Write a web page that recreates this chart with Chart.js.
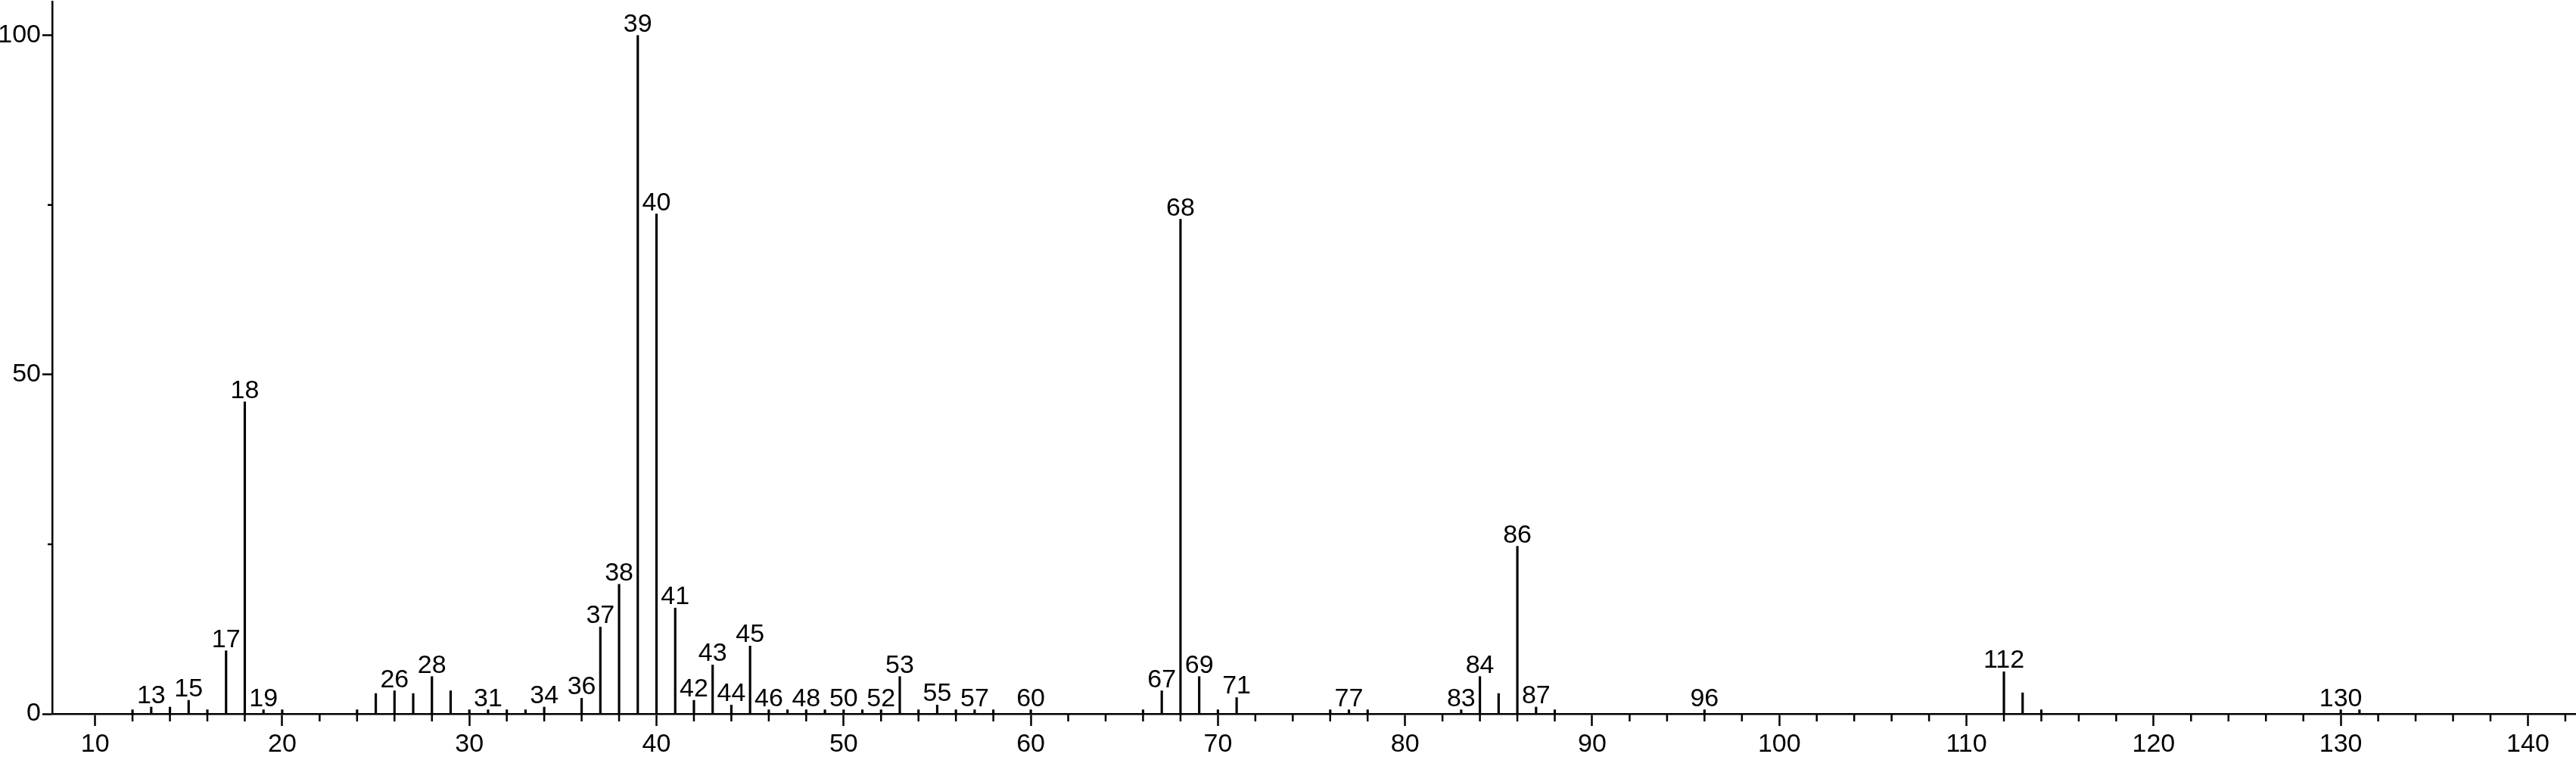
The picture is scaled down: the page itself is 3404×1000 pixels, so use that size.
<!DOCTYPE html>
<html>
<head>
<meta charset="utf-8">
<script src="https://cdn.jsdelivr.net/npm/chart.js@4.4.0/dist/chart.umd.min.js"></script>
<style>
  body { margin: 0; background: #fff; }
  #wrap { width: 3404px; height: 1000px; }
</style>
</head>
<body>
<div id="wrap"><canvas id="myChart"></canvas></div>
<script>
// m/z values and relative intensity (%)
let mz = [12, 13, 14, 15, 16, 17, 18, 19, 20, 24, 25, 26, 27, 28, 29, 30, 31, 32, 33, 34,
  36, 37, 38, 39, 40, 41, 42, 43, 44, 45, 46, 47, 48, 49, 50, 51, 52, 53, 54, 55,
  56, 57, 58, 60, 66, 67, 68, 69, 70, 71, 76, 77, 78, 83, 84, 85, 86, 87, 88, 96,
  112, 113, 114, 130, 131];
let intensity = [0.6, 1.0, 1.0, 2.0, 0.6, 9.3, 46.0, 0.6, 0.6, 0.6, 3.0, 3.4, 3.0, 5.5, 3.4, 0.6, 0.6, 0.6, 0.6, 1.0,
  2.3, 12.8, 19.1, 100, 73.7, 15.6, 2.0, 7.2, 1.3, 10.0, 0.6, 0.6, 0.6, 0.6, 0.6, 0.6, 0.6, 5.5, 0.6, 1.3,
  0.6, 0.6, 0.6, 0.6, 0.6, 3.4, 72.9, 5.5, 0.6, 2.4, 0.6, 0.6, 0.6, 0.6, 5.5, 3.0, 24.7, 1.0, 0.6, 0.6,
  6.2, 3.1, 0.6, 0.6, 0.6];
// peaks that carry a number above them
let labeled = [13, 15, 17, 18, 19, 26, 28, 31, 34, 36, 37, 38, 39, 40, 41, 42, 43, 44, 45, 46,
  48, 50, 52, 53, 55, 57, 60, 67, 68, 69, 71, 77, 83, 84, 86, 87, 96, 112, 130];
let xTicks = [10, 20, 30, 40, 50, 60, 70, 80, 90, 100, 110, 120, 130, 140];
let yTicks = [0, 50, 100];
let yMinor = [25, 75];

let peaks = mz.map(function(m, i) { return { x: m, y: intensity[i] }; });

Chart.defaults.font.family = "'Liberation Sans', Arial, sans-serif";
Chart.defaults.font.size = 34;
Chart.defaults.color = '#000';

// small ticks every 2 on x, and at 25/75 on y
let minorTicks = {
  id: 'minorTicks',
  afterDraw: function(chart) {
    let ctx = chart.ctx;
    let xs = chart.scales.x;
    let ys = chart.scales.y;
    let area = chart.chartArea;
    ctx.save();
    ctx.strokeStyle = '#000';
    ctx.lineWidth = 2.5;
    ctx.beginPath();
    for (let v = 12; v <= 142; v += 2) {
      if (xTicks.indexOf(v) >= 0) continue;
      let px = xs.getPixelForValue(v);
      ctx.moveTo(px, area.bottom);
      ctx.lineTo(px, area.bottom + 10);
    }
    yMinor.forEach(function(v) {
      let py = ys.getPixelForValue(v);
      ctx.moveTo(area.left - 6, py);
      ctx.lineTo(area.left, py);
    });
    ctx.stroke();
    ctx.restore();
  }
};

let peakLabels = {
  id: 'peakLabels',
  afterDatasetsDraw: function(chart) {
    let ctx = chart.ctx;
    let meta = chart.getDatasetMeta(0);
    ctx.save();
    ctx.fillStyle = '#000';
    ctx.font = "34px 'Liberation Sans', Arial, sans-serif";
    ctx.textAlign = 'center';
    ctx.textBaseline = 'alphabetic';
    meta.data.forEach(function(bar, i) {
      if (labeled.indexOf(mz[i]) < 0) return;
      ctx.fillText(String(mz[i]), bar.x, bar.y - 5);
    });
    ctx.restore();
  }
};

let ctx = document.getElementById('myChart');
let spectrum = new Chart(ctx, {
  type: 'bar',
  data: {
    datasets: [{
      data: peaks,
      backgroundColor: '#000',
      borderWidth: 0,
      barThickness: 2.5
    }]
  },
  options: {
    responsive: true,
    maintainAspectRatio: false,
    animation: false,
    layout: { padding: { top: 2, right: 0, bottom: 0, left: 0 } },
    plugins: { legend: { display: false }, tooltip: { enabled: false } },
    scales: {
      x: {
        type: 'linear',
        min: 7.71,
        max: 142.57,
        offset: false,
        afterBuildTicks: function(s) { s.ticks = xTicks.map(function(v) { return { value: v }; }); },
        afterFit: function(s) { s.height = 57; s.paddingLeft = 0; s.paddingRight = 0; },
        grid: { offset: false, drawOnChartArea: false, drawTicks: true, tickLength: 16, tickWidth: 2.5, color: '#000', tickColor: '#000' },
        border: { display: true, color: '#000', width: 2.5 },
        ticks: { autoSkip: false, maxRotation: 0, padding: 4, color: '#000' }
      },
      y: {
        min: 0,
        max: 105,
        afterBuildTicks: function(s) { s.ticks = yTicks.map(function(v) { return { value: v }; }); },
        afterFit: function(s) { s.width = 69; s.paddingTop = 0; s.paddingBottom = 0; },
        grid: { drawOnChartArea: false, drawTicks: true, tickLength: 13, tickWidth: 2.5, color: '#000', tickColor: '#000' },
        border: { display: true, color: '#000', width: 2.5 },
        ticks: { padding: 2, color: '#000' }
      }
    }
  },
  plugins: [minorTicks, peakLabels]
});
</script>
</body>
</html>
